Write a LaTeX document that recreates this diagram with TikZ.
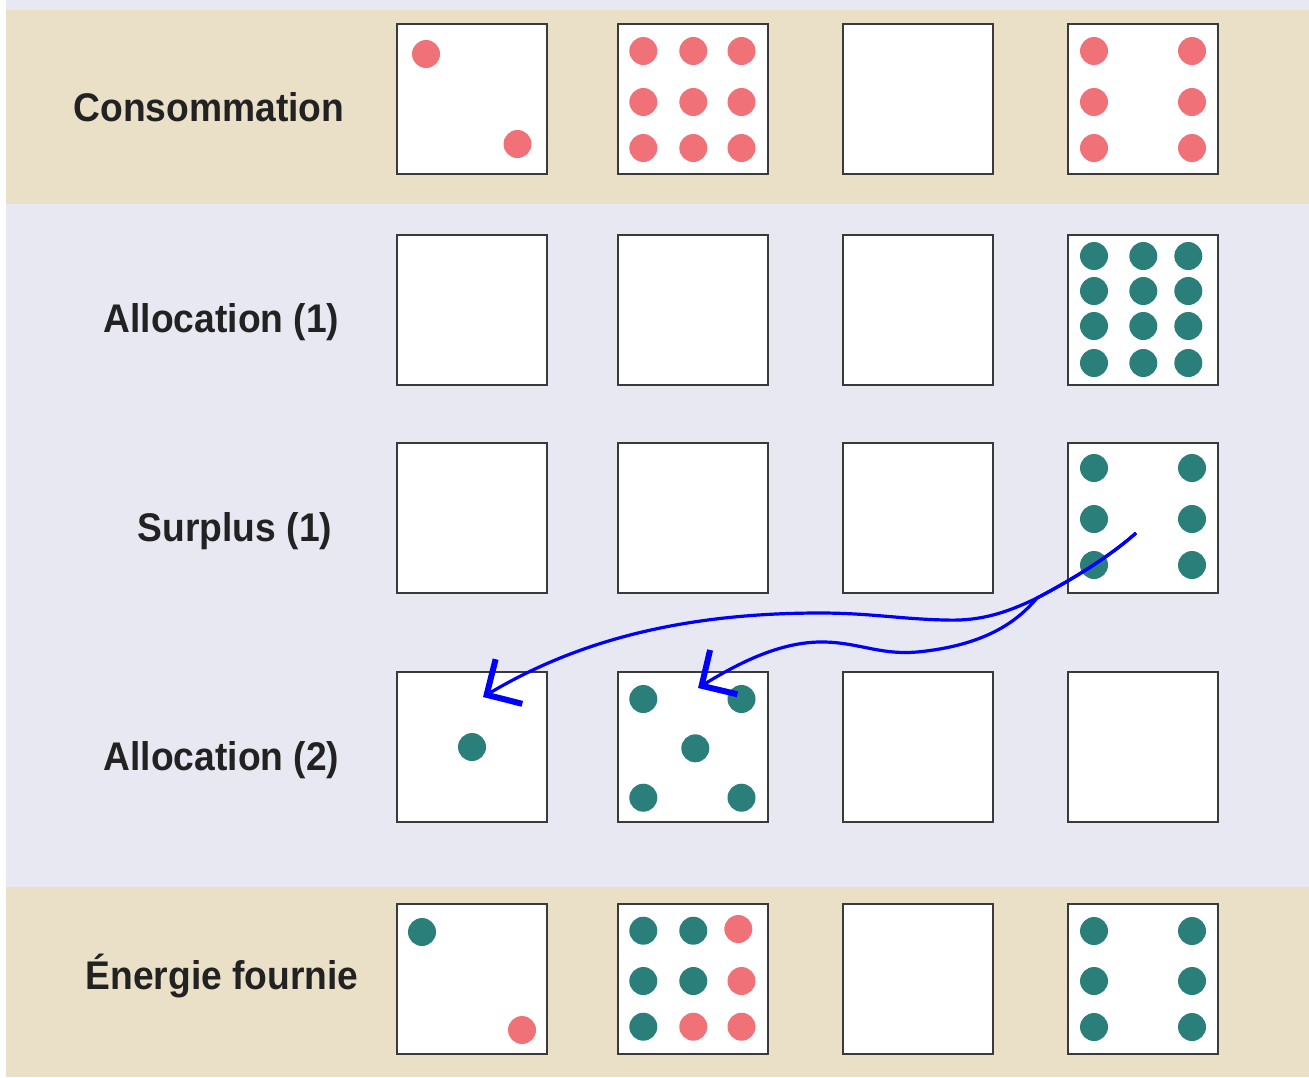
\documentclass[tikz,border=0pt]{standalone}
\usepackage{fontspec}
\setmainfont{Liberation Sans}[FakeStretch=0.93]
\usetikzlibrary{arrows.meta}
\definecolor{beige}{HTML}{EAE0C8}
\definecolor{lav}{HTML}{E8E8F2}
\definecolor{dotred}{HTML}{F07178}
\definecolor{dotteal}{HTML}{2A7F7A}
\definecolor{txt}{HTML}{222222}
\definecolor{boxline}{HTML}{3A3A3A}
\begin{document}
\begin{tikzpicture}[x=0.5pt,y=-0.5pt,
  cell/.style={draw=boxline, line width=1pt, fill=white, minimum size=75pt, inner sep=0pt, outer sep=0pt},
  lbl/.style={font=\bfseries\fontsize{20pt}{24pt}\selectfont, text=txt, anchor=base, inner sep=0pt},
  rd/.style={fill=dotred},
  td/.style={fill=dotteal},
  flow/.style={draw=blue, line width=1.6pt, -{Straight Barb[length=13pt,width=26pt,line width=3pt,line cap=butt,line join=miter]}}
]
\useasboundingbox (0,0) rectangle (1309,1077);
% backgrounds
\fill[white] (0,0) rectangle (1309,1077);
\fill[lav] (6,0) rectangle (1309,1077);
\fill[beige] (6,10) rectangle (1309,204);
\fill[beige] (6,887) rectangle (1309,1077);

% labels
\node[lbl] (l1) at (209,121) {Consommation};
\node[lbl] (l2) at (221.5,332) {Allocation (1)};
\node[lbl] (l3) at (235,541) {Surplus (1)};
\node[lbl] (l4) at (221.5,770) {Allocation (2)};
\node[lbl] (l5) at (222,989) {Énergie fournie};

% boxes
\foreach \r/\y in {1/99,2/310,3/518,4/747,5/979}{
  \foreach \c/\x in {1/472,2/693,3/918,4/1143}{
    \node[cell] (b\r\c) at (\x,\y) {};
  }
}

% row 1 dots
\fill[rd] (426,54) circle (7pt);
\fill[rd] (517.5,144) circle (7pt);
\foreach \x in {643.3,693.3,741.5}{\foreach \y in {51,102,148}{\fill[rd] (\x,\y) circle (7pt);}}
\foreach \x in {1094,1192}{\foreach \y in {51,102,148}{\fill[rd] (\x,\y) circle (7pt);}}

% row 2 dots
\foreach \x in {1094,1143.3,1188.3}{\foreach \y in {256,291,326,363}{\fill[td] (\x,\y) circle (7pt);}}

% row 3 dots
\foreach \x in {1094,1192}{\foreach \y in {468,519,565}{\fill[td] (\x,\y) circle (7pt);}}

% row 4 dots
\fill[td] (472,747) circle (7pt);
\fill[td] (643.3,699) circle (7pt);
\fill[td] (741.5,699) circle (7pt);
\fill[td] (695.3,748.3) circle (7pt);
\fill[td] (643.3,797.7) circle (7pt);
\fill[td] (741.5,797.7) circle (7pt);

% row 5 dots
\fill[td] (422,932) circle (7pt);
\fill[rd] (522,1030) circle (7pt);
\fill[td] (643.3,930.7) circle (7pt);
\fill[td] (693.3,930.7) circle (7pt);
\fill[rd] (738.3,929) circle (7pt);
\fill[td] (643.3,981) circle (7pt);
\fill[td] (693.3,981) circle (7pt);
\fill[rd] (741.5,981) circle (7pt);
\fill[td] (643.3,1026.7) circle (7pt);
\fill[rd] (693.3,1026.7) circle (7pt);
\fill[rd] (741.5,1026.7) circle (7pt);
\foreach \x in {1094,1192}{\foreach \y in {931,981,1027}{\fill[td] (\x,\y) circle (7pt);}}

% arrows
\coordinate (S) at (1136,533);
\coordinate (J) at (1037,598);
\coordinate (T1) at (483,697);
\coordinate (T2) at (698,688);
\draw[flow] (S) .. controls (1110,556) and (1075,578) .. (J)
  .. controls (1000,616) and (975,621) .. (945,620)
  .. controls (900,619) and (870,613) .. (820,613)
  .. controls (680,613) and (575,642) .. (T1);
\draw[flow] (S) .. controls (1110,556) and (1075,578) .. (J)
  .. controls (1020,618) and (990,645) .. (917,652)
  .. controls (880,655) and (860,643) .. (825,642)
  .. controls (785,641) and (745,659) .. (T2);
\end{tikzpicture}
\end{document}
